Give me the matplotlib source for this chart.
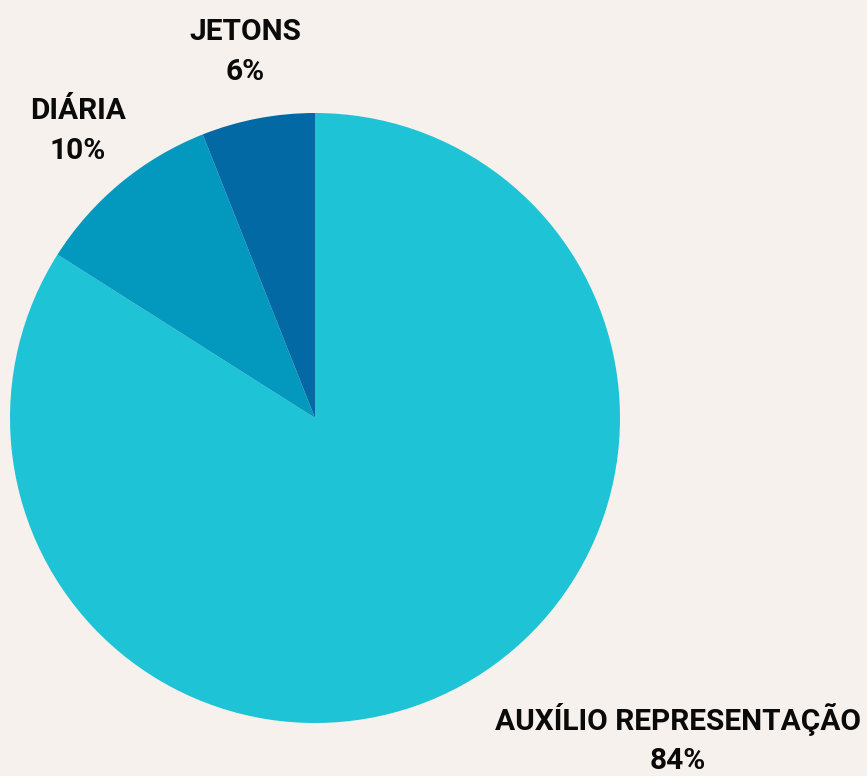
import matplotlib
matplotlib.use('Agg')
import matplotlib.pyplot as plt
from matplotlib import font_manager

# dados
categorias = ['AUXÍLIO REPRESENTAÇÃO', 'DIÁRIA', 'JETONS']
valores = [84, 10, 6]
cores = ['#1EC3D5', '#0399BF', '#0369A5']

W, H = 867, 776
cx, cy, r = 315, 418, 305

fams = [f.name for f in font_manager.fontManager.ttflist]
familia = ['Liberation Sans Narrow'] if 'Liberation Sans Narrow' in fams else ['Roboto']
familia = familia + ['DejaVu Sans']

fig = plt.figure(figsize=(W / 100, H / 100), dpi=100)
fig.patch.set_facecolor('#F6F1EC')
ax = fig.add_axes([0, 0, 1, 1])
ax.set_facecolor('#F6F1EC')

ax.pie(valores, colors=cores, startangle=90, counterclock=False,
       radius=1, center=(0, 0), wedgeprops=dict(linewidth=0))

ax.set_xlim(-cx / r, (W - cx) / r)
ax.set_ylim(-(H - cy) / r, cy / r)
ax.set_aspect('auto')
ax.axis('off')

# posição dos rótulos (pixels, centro do bloco de texto)
pos_rotulos = [(678, 739), (78, 131), (245, 52)]

for nome, v, (px, py) in zip(categorias, valores, pos_rotulos):
    ax.text((px - cx) / r, (cy - py) / r, f'{nome}\n{v}%',
            ha='center', va='center', fontsize=21.5, fontweight='bold',
            family=familia, linespacing=1.52, color='#0A0A0A')

plt.savefig('out.png', dpi=100, facecolor=fig.get_facecolor())
